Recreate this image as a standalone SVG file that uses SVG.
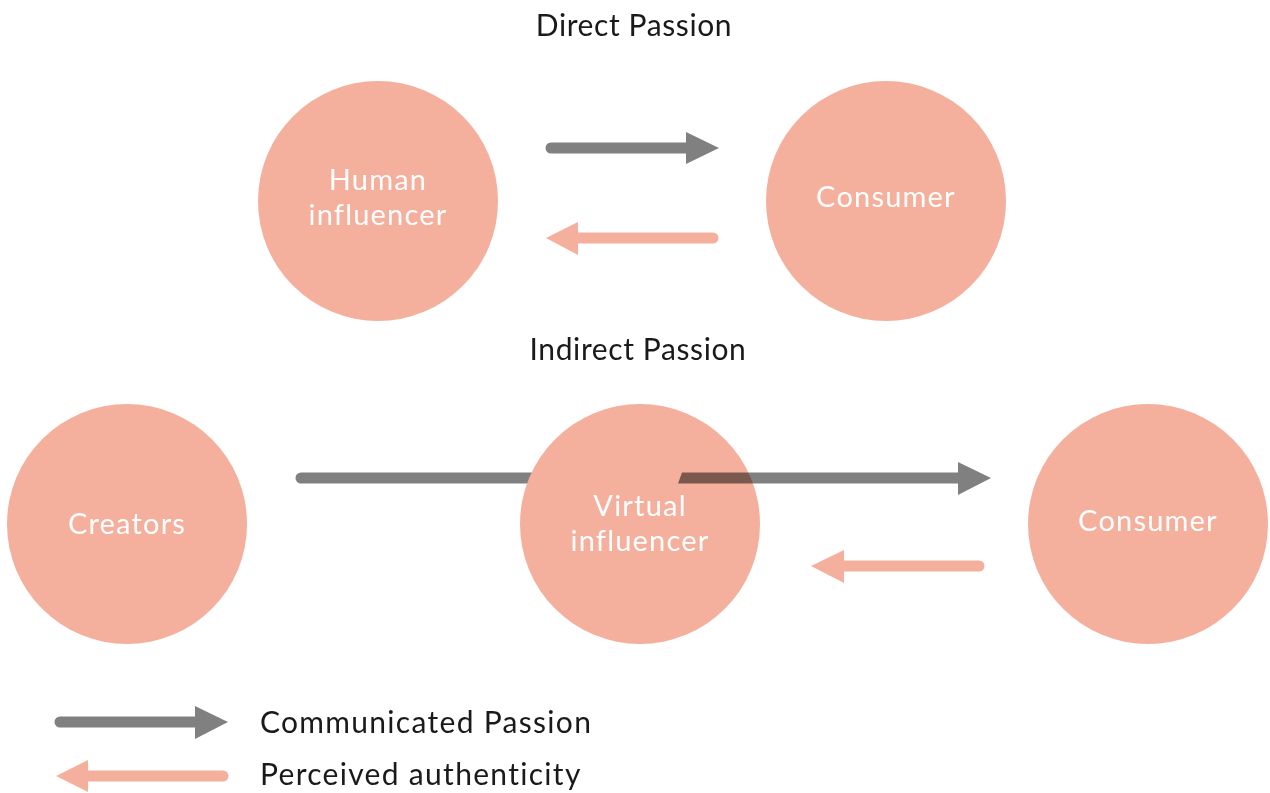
<svg xmlns="http://www.w3.org/2000/svg" width="1270" height="793" viewBox="0 0 1270 793">
  <style>
    .node { fill: #f4b09c; }
    .label { font-family: Lato, "Noto Sans", sans-serif; font-size: 29px; fill: #ffffff; text-anchor: middle; letter-spacing: 1.2px; }
    .title { font-family: Lato, "Noto Sans", sans-serif; font-size: 30px; fill: #1a1a1a; text-anchor: middle; letter-spacing: 0.6px; }
    .legend-text { font-family: Lato, "Noto Sans", sans-serif; font-size: 30px; fill: #1a1a1a; letter-spacing: 1.3px; }
    .passion { stroke: #808080; stroke-width: 11; stroke-linecap: round; fill: none; }
    .passion-head { fill: #808080; }
    .auth { stroke: #f4b09c; stroke-width: 11; stroke-linecap: round; fill: none; }
    .auth-head { fill: #f4b09c; }
  </style>
  <rect width="1270" height="793" fill="#ffffff"/>

  <text class="title" x="634" y="36">Direct Passion</text>
  <text class="title" x="638" y="360">Indirect Passion</text>

  <!-- lower communicated-passion line runs behind the virtual influencer -->
  <g id="connectors-back">
    <line class="passion" x1="301" y1="478" x2="700" y2="478"/>
  </g>

  <g id="human-influencer">
    <circle class="node" cx="378" cy="201" r="120"/>
    <text class="label" x="378" y="190">Human</text>
    <text class="label" x="378" y="225">influencer</text>
  </g>
  <g id="consumer-direct">
    <circle class="node" cx="886" cy="201" r="120"/>
    <text class="label" x="886" y="207">Consumer</text>
  </g>
  <g id="creators">
    <circle class="node" cx="127" cy="524" r="120"/>
    <text class="label" x="127" y="534">Creators</text>
  </g>
  <g id="virtual-influencer">
    <circle class="node" cx="640" cy="524" r="120"/>
    <text class="label" x="640" y="516">Virtual</text>
    <text class="label" x="640" y="551">influencer</text>
  </g>
  <g id="consumer-indirect">
    <circle class="node" cx="1148" cy="524" r="120"/>
    <text class="label" x="1148" y="531">Consumer</text>
  </g>

  <g id="connectors">
    <!-- direct passion -->
    <line class="passion" x1="551" y1="148" x2="690" y2="148"/>
    <polygon class="passion-head" points="686,132 719,148 686,164"/>
    <line class="auth" x1="575" y1="238" x2="713" y2="238"/>
    <polygon class="auth-head" points="578,222 546,238 578,255"/>

    <!-- indirect passion: continuation over the virtual influencer -->
    <g style="mix-blend-mode: multiply">
      <polygon class="passion-head" points="682,472.5 962,472.5 962,483.5 678,483.5"/>
      <polygon class="passion-head" points="958,462 991,478 958,495"/>
    </g>
    <line class="auth" x1="840" y1="566" x2="979" y2="566"/>
    <polygon class="auth-head" points="844,550 811,566 844,583"/>
  </g>

  <g id="legend">
    <line class="passion" x1="60" y1="722" x2="199" y2="722"/>
    <polygon class="passion-head" points="195,706 228,722 195,739"/>
    <line class="auth" x1="85" y1="776" x2="223" y2="776"/>
    <polygon class="auth-head" points="88,760 56,776 88,792"/>
    <text class="legend-text" x="260" y="733">Communicated Passion</text>
    <text class="legend-text" x="260" y="785">Perceived authenticity</text>
  </g>
</svg>
